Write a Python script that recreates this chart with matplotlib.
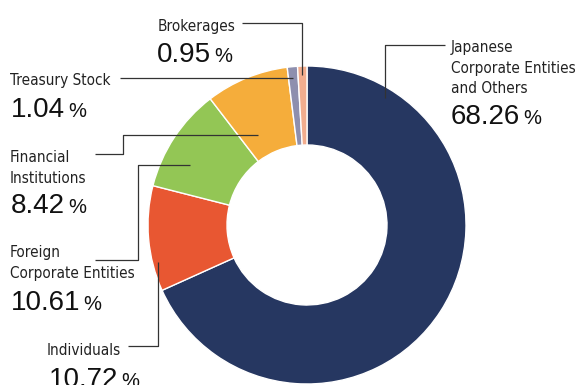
import matplotlib
matplotlib.use("Agg")
import matplotlib.pyplot as plt
from matplotlib import font_manager

# shareholder composition
labels = ["Japanese\nCorporate Entities\nand Others", "Individuals",
          "Foreign\nCorporate Entities", "Financial\nInstitutions",
          "Treasury Stock", "Brokerages"]
shares = [68.26, 10.72, 10.61, 8.42, 1.04, 0.95]
colors = ["#263761", "#E85732", "#93C655", "#F5AD3B", "#8E8FAE", "#F2AD8E"]

W, H = 578, 385
CX, CY, R, RIN = 307, 225, 159, 80

# narrow face for the captions if one is around
fonts = font_manager.fontManager.ttflist
label_family, label_stretch = "Roboto", "normal"
for f in fonts:
    if f.name == "Liberation Sans Narrow":
        label_family, label_stretch = f.name, "normal"
        break
    if f.name == "DejaVu Sans" and f.stretch in ("condensed", "semi-condensed"):
        label_family, label_stretch = f.name, f.stretch

fig = plt.figure(figsize=(W / 100, H / 100), dpi=100)
ax = fig.add_axes([0, 0, 1, 1])

ax.pie(shares, colors=colors, startangle=90, counterclock=False,
       center=(CX, H - CY), radius=R,
       wedgeprops=dict(width=R - RIN, edgecolor="white", linewidth=1.0))
ax.set_xlim(0, W)
ax.set_ylim(0, H)
ax.set_aspect("equal")
ax.axis("off")

renderer = fig.canvas.get_renderer()

# size the caption font so "Corporate Entities" runs about 124 px wide
probe = ax.text(0, 0, "Corporate Entities", fontsize=10,
                family=[label_family, "DejaVu Sans"], stretch=label_stretch)
label_size = 10 * 124 / probe.get_window_extent(renderer).width
probe.remove()

NUM_FONT = ["Liberation Sans", "DejaVu Sans"]


def leader(points):
    xs = [p[0] for p in points]
    ys = [H - p[1] for p in points]
    ax.plot(xs, ys, color="#333333", lw=0.9, solid_capstyle="butt")


def label(x, y, text, step=21):
    # y is the baseline of the first line
    for i, line in enumerate(text.split("\n")):
        ax.text(x, H - (y + i * step), line, fontsize=label_size,
                family=[label_family, "DejaVu Sans"], stretch=label_stretch,
                color="#222222", ha="left", va="baseline")


def percent(x, y, value):
    t = ax.text(x, H - y, f"{value:.2f}", fontsize=20, family=NUM_FONT,
                color="#111111", ha="left", va="baseline")
    bb = t.get_window_extent(renderer)
    ax.text(bb.x1 + 3, H - y, "%", fontsize=14.5, family=NUM_FONT,
            color="#111111", ha="left", va="baseline")


# Japanese corporate entities
leader([(385, 98), (385, 45), (445, 45)])
label(451, 52, labels[0], step=20.5)
percent(451, 124, shares[0])

# Individuals
leader([(128, 346), (158, 346), (158, 262)])
label(47, 355, labels[1])
percent(49, 387, shares[1])

# Foreign corporate entities
leader([(95, 260), (138, 260), (138, 165), (190, 165)])
label(10, 257, labels[2])
percent(11, 310, shares[2])

# Financial institutions
leader([(95, 154), (123, 154), (123, 135), (258, 135)])
label(10, 162, labels[3])
percent(11, 213, shares[3])

# Treasury stock
leader([(120, 78), (293, 78)])
label(10, 85, labels[4])
percent(11, 117, shares[4])

# Brokerages
leader([(242, 23), (302, 23), (302, 75)])
label(158, 31, labels[5])
percent(157, 62, shares[5])

fig.savefig("out.png", dpi=100)
